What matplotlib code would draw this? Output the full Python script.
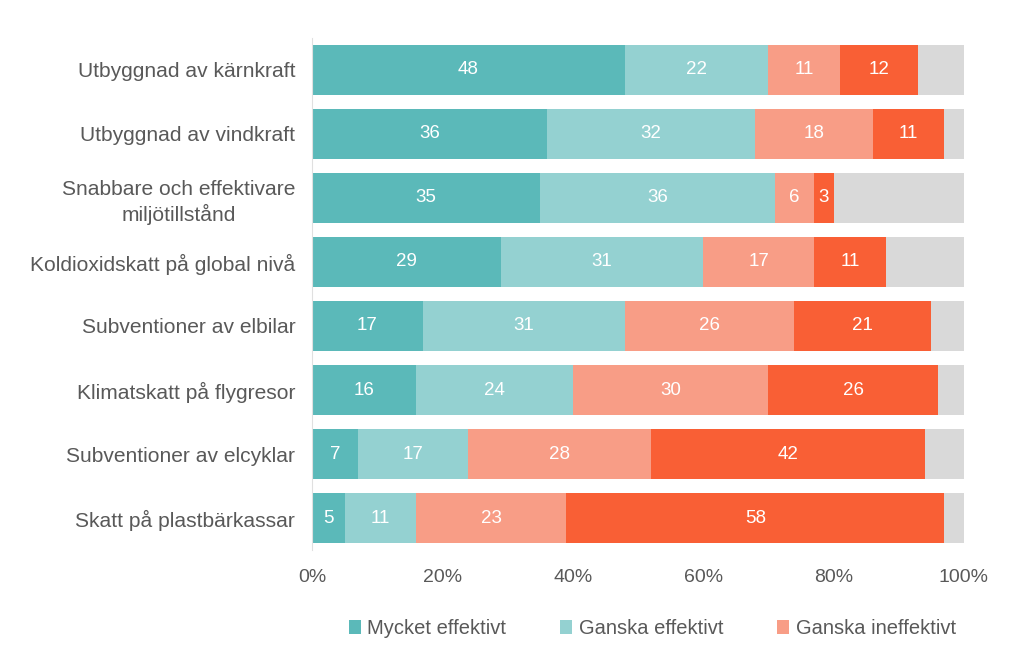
import numpy as np
import matplotlib.pyplot as plt

plt.rcParams['font.family'] = ['Liberation Sans', 'DejaVu Sans']

categories = ['Utbyggnad av kärnkraft', 'Utbyggnad av vindkraft',
              'Snabbare och effektivare\nmiljötillstånd', 'Koldioxidskatt på global nivå',
              'Subventioner av elbilar', 'Klimatskatt på flygresor',
              'Subventioner av elcyklar', 'Skatt på plastbärkassar']
mycket_eff = [48, 36, 35, 29, 17, 16, 7, 5]
ganska_eff = [22, 32, 36, 31, 31, 24, 17, 11]
ganska_ineff = [11, 18, 6, 17, 26, 30, 28, 23]
mycket_ineff = [12, 11, 3, 11, 21, 26, 42, 58]
series_names = ['Mycket effektivt', 'Ganska effektivt', 'Ganska ineffektivt', 'Mycket ineffektivt']
colors = ['#5BB9B9', '#94D1D1', '#F89D86', '#F95F35']
rest_color = '#D9D9D9'

data = np.array([mycket_eff, ganska_eff, ganska_ineff, mycket_ineff], dtype=float)
rest = 100 - data.sum(axis=0)  # vet ej / resten upp till 100

fig = plt.figure(figsize=(10.24, 6.65), dpi=100)
ax = fig.add_axes([0.3047, 0.1729, 0.6367, 0.77])

y = np.arange(len(categories))
left = np.zeros(len(categories))
handles = []
for vals, name, col in zip(data, series_names, colors):
    b = ax.barh(y, vals, left=left, height=0.78, color=col, label=name)
    handles.append(b)
    for yi, l, v in zip(y, left, vals):
        ax.text(l + v / 2, yi, f'{v:.0f}', ha='center', va='center',
                color='white', fontsize=13.5)
    left += vals
ax.barh(y, rest, left=left, height=0.78, color=rest_color)

ax.set_ylim(len(categories) - 0.5, -0.5)
ax.set_xlim(0, 100)
ax.set_yticks(y)
ax.set_yticklabels(categories, fontsize=15.1, color='#595959', multialignment='center',
                   linespacing=1.3)
ax.set_xticks(np.arange(0, 101, 20))
ax.set_xticklabels([f'{t}%' for t in range(0, 101, 20)], fontsize=14, color='#595959')
ax.tick_params(length=0, pad=12)
ax.tick_params(axis='x', pad=14)
for s in ['top', 'right', 'bottom']:
    ax.spines[s].set_visible(False)
ax.spines['left'].set_color('#E0E0E0')

fig.legend(handles=handles[:3], loc='center', bbox_to_anchor=(0.637, 0.055), ncol=3,
           frameon=False, fontsize=14.5, labelcolor='#595959', handlelength=0.6,
           handleheight=0.75, handletextpad=0.3, columnspacing=2.7)

fig.savefig('out.png', dpi=100)
